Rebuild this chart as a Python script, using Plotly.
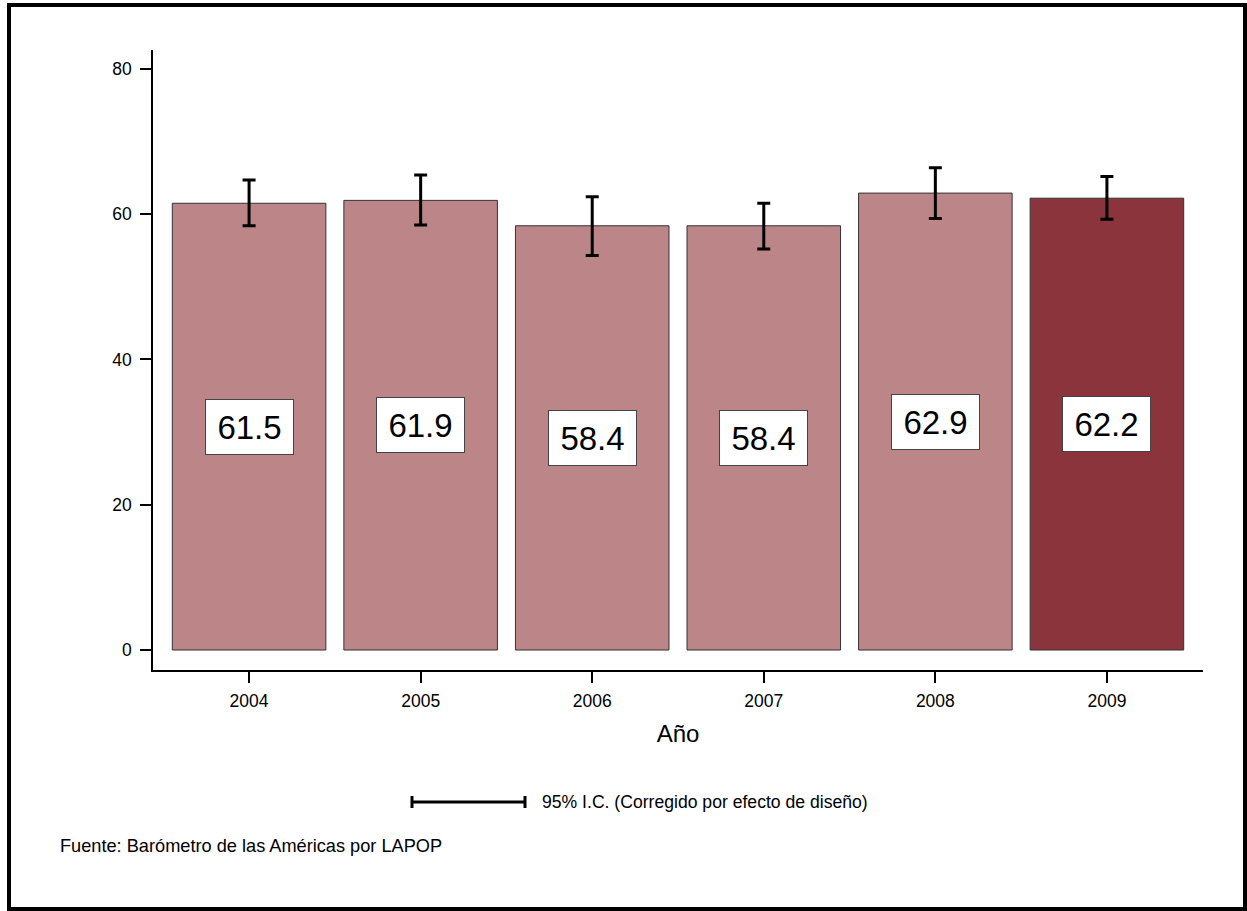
import plotly.graph_objects as go

years = ["2004", "2005", "2006", "2007", "2008", "2009"]
values = [61.5, 61.9, 58.4, 58.4, 62.9, 62.2]
ci_low = [58.4, 58.5, 54.3, 55.2, 59.4, 59.3]
ci_high = [64.7, 65.4, 62.4, 61.5, 66.4, 65.2]
value_labels = ["61.5", "61.9", "58.4", "58.4", "62.9", "62.2"]
y_ticks = [0, 20, 40, 60, 80]

W, H = 1247, 911
L, R, T, B = 153, 1203, 50, 670

def px(x):
    return (x - L) / (R - L)

def py(y):
    return (B - y) / (B - T)

light = "#BC8587"
dark = "#8C343C"
colors = [light] * (len(years) - 1) + [dark]

fig = go.Figure()
fig.add_trace(go.Bar(
    x=years, y=values,
    marker=dict(color=colors, line=dict(color="#333333", width=1)),
    width=0.895,
    error_y=dict(type="data", symmetric=False,
                 array=[h - v for h, v in zip(ci_high, values)],
                 arrayminus=[v - l for v, l in zip(values, ci_low)],
                 color="black", thickness=3, width=6.5),
    showlegend=False,
))

for i, (v, lab) in enumerate(zip(values, value_labels)):
    fig.add_annotation(x=i, y=v / 2, xref="x", yref="y", text=lab,
                       showarrow=False, font=dict(size=33, color="black", family="Liberation Sans, Arial"),
                       bgcolor="white", bordercolor="#444444", borderwidth=1,
                       width=85, height=52, borderpad=1)

fig.add_annotation(x=px(540), y=py(802), xref="paper", yref="paper",
                   xanchor="left", yanchor="middle", showarrow=False,
                   text="95% I.C. (Corregido por efecto de diseño)",
                   font=dict(size=17.6, color="black"))
fig.add_annotation(x=px(58), y=py(846), xref="paper", yref="paper",
                   xanchor="left", yanchor="middle", showarrow=False,
                   text="Fuente: Barómetro de las Américas por LAPOP",
                   font=dict(size=18.2, color="black"))

shapes = [
    dict(type="line", xref="paper", yref="paper", x0=px(412), x1=px(525), y0=py(802), y1=py(802),
         line=dict(color="black", width=3)),
    dict(type="line", xref="paper", yref="paper", x0=px(412), x1=px(412), y0=py(796), y1=py(808),
         line=dict(color="black", width=3)),
    dict(type="line", xref="paper", yref="paper", x0=px(525), x1=px(525), y0=py(796), y1=py(808),
         line=dict(color="black", width=3)),
    dict(type="rect", xref="paper", yref="paper", x0=px(9), x1=px(1245), y0=py(5), y1=py(909),
         line=dict(color="black", width=4), layer="above"),
]

fig.update_layout(
    width=W, height=H,
    margin=dict(l=L, r=W - R, t=T, b=H - B),
    paper_bgcolor="white", plot_bgcolor="white",
    font=dict(family="Liberation Sans, Arial", color="black"),
    shapes=shapes,
    bargap=0.105,
    xaxis=dict(type="category", range=[-0.56, 5.56], showline=True, linecolor="black", linewidth=1.5,
               ticks="outside", ticklen=11, tickwidth=1.5, tickcolor="black",
               tickfont=dict(size=17.5), showgrid=False, zeroline=False, ticklabelstandoff=3,
               title=dict(text="Año", font=dict(size=24), standoff=15)),
    yaxis=dict(range=[-2.75, 82.6], tickvals=y_ticks, showline=True, linecolor="black", linewidth=1.5,
               ticks="outside", ticklen=11, tickwidth=1.5, tickcolor="black",
               tickfont=dict(size=17.5), showgrid=False, zeroline=False, ticklabelstandoff=5),
)

fig.write_html("out.html", config={"displayModeBar": False},
               post_script="document.body.style.margin='0';document.body.style.overflow='hidden';")
